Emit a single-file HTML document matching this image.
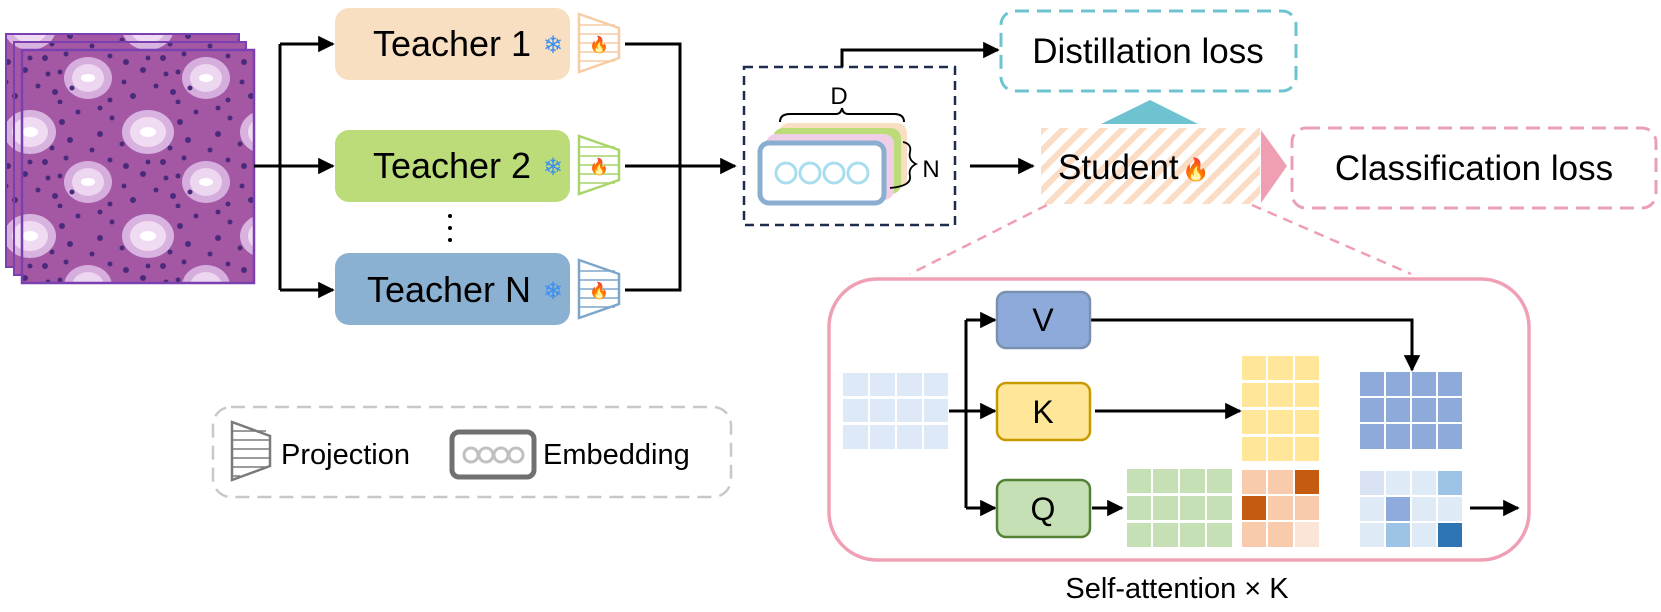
<!DOCTYPE html>
<html><head><meta charset="utf-8"><style>
html,body{margin:0;padding:0;background:#fff;}
svg text{font-family:"Liberation Sans",Arial,sans-serif;}
</style></head><body>
<svg width="1661" height="607" viewBox="0 0 1661 607" xmlns="http://www.w3.org/2000/svg">
<defs>
<marker id="ah" viewBox="0 0 10 10" refX="9" refY="5" markerWidth="5.5" markerHeight="5.5" orient="auto" markerUnits="strokeWidth"><path d="M0,0 L10,5 L0,10 z" fill="#000"/></marker>
<pattern id="hatch" width="14" height="14" patternUnits="userSpaceOnUse" patternTransform="rotate(45)"><rect width="14" height="14" fill="#fff"/><rect width="6" height="14" fill="#fbdcc4"/></pattern>
<pattern id="tissue" width="118" height="104" patternUnits="userSpaceOnUse">
<rect width="118" height="104" fill="#a458a4"/>
<ellipse cx="30" cy="28" rx="26" ry="22" fill="#d9b3e0"/>
<ellipse cx="30" cy="28" rx="18" ry="15" fill="#efdcf2"/>
<ellipse cx="30" cy="28" rx="8" ry="5" fill="#fff"/>
<ellipse cx="88" cy="78" rx="24" ry="21" fill="#d6aede"/>
<ellipse cx="88" cy="78" rx="16" ry="14" fill="#ecd6f0"/>
<ellipse cx="88" cy="78" rx="7" ry="4" fill="#fff"/>
<g fill="#4a2a7a">
<circle cx="62" cy="18" r="3"/><circle cx="70" cy="36" r="3"/><circle cx="8" cy="62" r="3"/><circle cx="25" cy="70" r="3"/>
<circle cx="45" cy="58" r="3"/><circle cx="55" cy="92" r="3"/><circle cx="100" cy="30" r="3"/><circle cx="15" cy="96" r="3"/>
<circle cx="60" cy="72" r="2.5"/><circle cx="92" cy="46" r="2.5"/><circle cx="38" cy="86" r="2.5"/><circle cx="78" cy="8" r="2.5"/>
<circle cx="110" cy="100" r="2.5"/><circle cx="52" cy="44" r="2.5"/><circle cx="66" cy="54" r="2.5"/><circle cx="112" cy="14" r="2.5"/>
<circle cx="4" cy="40" r="2.5"/><circle cx="60" cy="102" r="2.5"/><circle cx="110" cy="56" r="2.5"/><circle cx="30" cy="58" r="2.5"/>
<circle cx="48" cy="74" r="2.5"/><circle cx="72" cy="88" r="2.5"/><circle cx="100" cy="4" r="2.5"/><circle cx="6" cy="82" r="2.5"/>
</g>
</pattern>
</defs>

<rect x="6" y="34" width="233" height="233" fill="url(#tissue)" stroke="#7a3fb0" stroke-width="2"/>
<rect x="14" y="42" width="232" height="233" fill="url(#tissue)" stroke="#7a3fb0" stroke-width="2"/>
<rect x="22" y="50" width="232" height="233" fill="url(#tissue)" stroke="#7a3fb0" stroke-width="2.5"/>

<g stroke="#000" stroke-width="3" fill="none">
<path d="M254,166 H280"/>
<path d="M280,44 V290"/>
<path d="M280,44 H333" marker-end="url(#ah)"/>
<path d="M280,166 H333" marker-end="url(#ah)"/>
<path d="M280,290 H333" marker-end="url(#ah)"/>
<path d="M625,44 H680 V290 H625"/>
<path d="M625,166 H735" marker-end="url(#ah)"/>
</g>

<rect x="335" y="8" width="235" height="72" rx="14" fill="#f9dfc2"/>
<rect x="335" y="130" width="235" height="72" rx="14" fill="#bcdc7a"/>
<rect x="335" y="253" width="235" height="72" rx="14" fill="#8ab1d1"/>
<text x="452" y="56" font-size="36" text-anchor="middle">Teacher 1</text>
<text x="452" y="178" font-size="36" text-anchor="middle">Teacher 2</text>
<text x="449" y="302" font-size="36" text-anchor="middle">Teacher N</text>
<g font-size="24" fill="#3b8ff0" text-anchor="middle">
<text x="553" y="53">❄</text><text x="553" y="175">❄</text><text x="553" y="299">❄</text>
</g>
<circle cx="450" cy="216" r="2" fill="#000"/><circle cx="450" cy="228" r="2" fill="#000"/><circle cx="450" cy="240" r="2" fill="#000"/>

<g stroke-width="2.5" fill="#fff">
<g stroke="#f6cca4"><path d="M579,14 L619,28 L619,58 L579,72 Z"/>
<path d="M579,25 H615 M579,34 H619 M579,43 H619 M579,52 H619 M579,61 H615" stroke-width="1.5"/></g>
<g stroke="#a8d46a"><path d="M579,136 L619,150 L619,180 L579,194 Z"/>
<path d="M579,147 H615 M579,156 H619 M579,165 H619 M579,174 H619 M579,183 H615" stroke-width="1.5"/></g>
<g stroke="#7ea6ca"><path d="M579,260 L619,274 L619,304 L579,318 Z"/>
<path d="M579,271 H615 M579,280 H619 M579,289 H619 M579,298 H619 M579,307 H615" stroke-width="1.5"/></g>
</g>
<g font-size="16" text-anchor="middle"><text x="599" y="50">🔥</text><text x="599" y="172">🔥</text><text x="599" y="296">🔥</text></g>

<rect x="744" y="67" width="211" height="158" fill="none" stroke="#1e2d4e" stroke-width="2.5" stroke-dasharray="9,6"/>
<path d="M842,67 V50 H998" stroke="#000" stroke-width="3" fill="none" marker-end="url(#ah)"/>
<text x="839" y="104" font-size="24" text-anchor="middle">D</text>
<path d="M780,122 Q780,114 790,114 L836,114 Q841,114 842,108 Q843,114 848,114 L894,114 Q904,114 904,122" fill="none" stroke="#000" stroke-width="2"/>
<rect x="779" y="123" width="128" height="66" rx="10" fill="#f9dfc2"/>
<rect x="773" y="128" width="128" height="66" rx="10" fill="#bcdc7a"/>
<rect x="766" y="134" width="128" height="66" rx="10" fill="#f0cfe6"/>
<rect x="760" y="143" width="124" height="60" rx="9" fill="#fff" stroke="#8aaed0" stroke-width="5"/>
<g fill="none" stroke="#a8dcef" stroke-width="3"><circle cx="786" cy="173" r="10"/><circle cx="810" cy="173" r="10"/><circle cx="834" cy="173" r="10"/><circle cx="858" cy="173" r="10"/></g>
<path d="M903,142 Q912,144 910,152 Q908,160 916,164 Q908,168 910,176 Q912,186 890,188" fill="none" stroke="#000" stroke-width="1.8"/>
<text x="931" y="177" font-size="24" text-anchor="middle">N</text>
<path d="M970,166 H1033" stroke="#000" stroke-width="3" marker-end="url(#ah)"/>

<rect x="1001" y="11" width="295" height="80" rx="14" fill="none" stroke="#6fc3d0" stroke-width="3" stroke-dasharray="14,8"/>
<text x="1148" y="63" font-size="35" text-anchor="middle">Distillation loss</text>
<path d="M1101,124 L1150,100 L1198,124 Z" fill="#6fc3d0"/>

<rect x="1041" y="128" width="219" height="76" fill="url(#hatch)"/>
<text x="1058" y="179" font-size="35">Student</text>
<text x="1196" y="177" font-size="22" text-anchor="middle">🔥</text>
<path d="M1261,130 L1287,166 L1261,203 Z" fill="#ee9fb2"/>
<rect x="1292" y="128" width="364" height="80" rx="14" fill="none" stroke="#e8a0b4" stroke-width="3" stroke-dasharray="14,8"/>
<text x="1474" y="180" font-size="35" text-anchor="middle">Classification loss</text>

<path d="M1047,205 L910,274 M1252,205 L1411,274" stroke="#ee9fb2" stroke-width="2.5" stroke-dasharray="10,7" fill="none"/>

<rect x="829" y="279" width="700" height="281" rx="48" fill="none" stroke="#f0a0b4" stroke-width="3.5"/>
<text x="1177" y="598" font-size="29" text-anchor="middle">Self-attention × K</text>

<g fill="#dde9f6">
<rect x="843" y="373" width="25" height="23"/><rect x="870" y="373" width="25" height="23"/><rect x="897" y="373" width="25" height="23"/><rect x="924" y="373" width="24" height="23"/>
<rect x="843" y="399" width="25" height="23"/><rect x="870" y="399" width="25" height="23"/><rect x="897" y="399" width="25" height="23"/><rect x="924" y="399" width="24" height="23"/>
<rect x="843" y="425" width="25" height="24"/><rect x="870" y="425" width="25" height="24"/><rect x="897" y="425" width="25" height="24"/><rect x="924" y="425" width="24" height="24"/>
</g>
<g stroke="#000" stroke-width="3" fill="none">
<path d="M949,411 H995" marker-end="url(#ah)"/>
<path d="M966,320 V508"/>
<path d="M966,320 H995" marker-end="url(#ah)"/>
<path d="M966,508 H995" marker-end="url(#ah)"/>
<path d="M1091,320 H1412 V370" marker-end="url(#ah)"/>
<path d="M1095,411 H1240" marker-end="url(#ah)"/>
<path d="M1092,508 H1122" marker-end="url(#ah)"/>
<path d="M1470,508 H1518" marker-end="url(#ah)"/>
</g>
<rect x="997" y="292" width="93" height="56" rx="9" fill="#8eaadb" stroke="#7a90b0" stroke-width="2.5"/>
<rect x="997" y="383" width="93" height="57" rx="9" fill="#ffe699" stroke="#c89a00" stroke-width="2.5"/>
<rect x="997" y="480" width="93" height="57" rx="9" fill="#c5e0b4" stroke="#548235" stroke-width="2.5"/>
<g font-size="32" text-anchor="middle"><text x="1043" y="331">V</text><text x="1043" y="423">K</text><text x="1043" y="520">Q</text></g>

<g fill="#ffe699">
<rect x="1242" y="356" width="24" height="24"/><rect x="1268" y="356" width="25" height="24"/><rect x="1295" y="356" width="24" height="24"/>
<rect x="1242" y="383" width="24" height="24"/><rect x="1268" y="383" width="25" height="24"/><rect x="1295" y="383" width="24" height="24"/>
<rect x="1242" y="410" width="24" height="24"/><rect x="1268" y="410" width="25" height="24"/><rect x="1295" y="410" width="24" height="24"/>
<rect x="1242" y="437" width="24" height="24"/><rect x="1268" y="437" width="25" height="24"/><rect x="1295" y="437" width="24" height="24"/>
</g>
<g fill="#c5e0b4">
<rect x="1127" y="469" width="24" height="24"/><rect x="1153" y="469" width="25" height="24"/><rect x="1180" y="469" width="25" height="24"/><rect x="1207" y="469" width="25" height="24"/>
<rect x="1127" y="496" width="24" height="24"/><rect x="1153" y="496" width="25" height="24"/><rect x="1180" y="496" width="25" height="24"/><rect x="1207" y="496" width="25" height="24"/>
<rect x="1127" y="523" width="24" height="24"/><rect x="1153" y="523" width="25" height="24"/><rect x="1180" y="523" width="25" height="24"/><rect x="1207" y="523" width="25" height="24"/>
</g>
<rect x="1242" y="470" width="24" height="24" fill="#f8cbad"/><rect x="1268" y="470" width="25" height="24" fill="#f8cbad"/><rect x="1295" y="470" width="24" height="24" fill="#c55a11"/>
<rect x="1242" y="496" width="24" height="24" fill="#c55a11"/><rect x="1268" y="496" width="25" height="24" fill="#f8cbad"/><rect x="1295" y="496" width="24" height="24" fill="#f8cbad"/>
<rect x="1242" y="522" width="24" height="25" fill="#f8cbad"/><rect x="1268" y="522" width="25" height="25" fill="#f8cbad"/><rect x="1295" y="522" width="24" height="25" fill="#fbe5d6"/>
<g fill="#8eaadb">
<rect x="1360" y="372" width="24" height="24"/><rect x="1386" y="372" width="24" height="24"/><rect x="1412" y="372" width="24" height="24"/><rect x="1438" y="372" width="24" height="24"/>
<rect x="1360" y="398" width="24" height="24"/><rect x="1386" y="398" width="24" height="24"/><rect x="1412" y="398" width="24" height="24"/><rect x="1438" y="398" width="24" height="24"/>
<rect x="1360" y="424" width="24" height="25"/><rect x="1386" y="424" width="24" height="25"/><rect x="1412" y="424" width="24" height="25"/><rect x="1438" y="424" width="24" height="25"/>
</g>
<rect x="1360" y="471" width="24" height="24" fill="#dae3f3"/><rect x="1386" y="471" width="24" height="24" fill="#deebf7"/><rect x="1412" y="471" width="24" height="24" fill="#deebf7"/><rect x="1438" y="471" width="24" height="24" fill="#9dc3e6"/>
<rect x="1360" y="497" width="24" height="24" fill="#deebf7"/><rect x="1386" y="497" width="24" height="24" fill="#8faadc"/><rect x="1412" y="497" width="24" height="24" fill="#deebf7"/><rect x="1438" y="497" width="24" height="24" fill="#deebf7"/>
<rect x="1360" y="523" width="24" height="24" fill="#deebf7"/><rect x="1386" y="523" width="24" height="24" fill="#9dc3e6"/><rect x="1412" y="523" width="24" height="24" fill="#deebf7"/><rect x="1438" y="523" width="24" height="24" fill="#2e75b6"/>

<rect x="213" y="407" width="518" height="90" rx="18" fill="none" stroke="#c8c8c8" stroke-width="2.5" stroke-dasharray="14,8"/>
<g stroke="#7a7a7a" fill="#fff" stroke-width="2.5">
<path d="M232,422 L270,436 L270,466 L232,480 Z"/>
<path d="M232,431 H266 M232,440 H270 M232,449 H270 M232,458 H270 M232,467 H266 M232,476 H240" stroke-width="1.5"/>
</g>
<text x="281" y="464" font-size="29">Projection</text>
<rect x="452" y="432" width="82" height="45" rx="7" fill="#fff" stroke="#707070" stroke-width="5"/>
<g fill="none" stroke="#c0c0c0" stroke-width="3"><circle cx="471" cy="455" r="7"/><circle cx="486" cy="455" r="7"/><circle cx="501" cy="455" r="7"/><circle cx="516" cy="455" r="7"/></g>
<text x="543" y="464" font-size="29">Embedding</text>
</svg>
</body></html>
